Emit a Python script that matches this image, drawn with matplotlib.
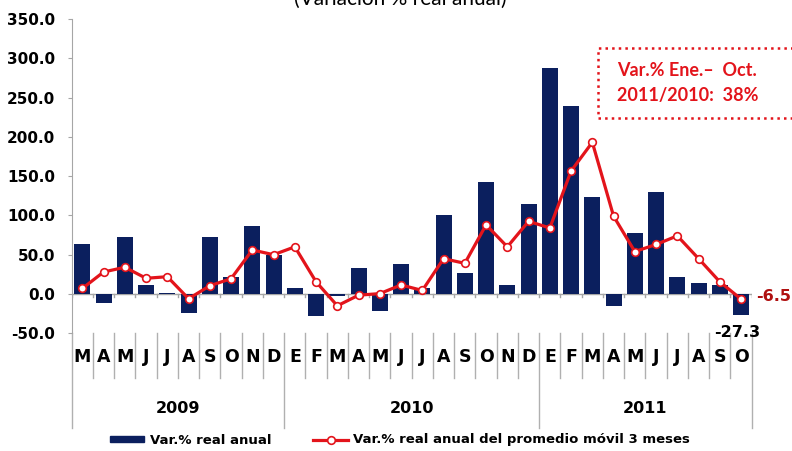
import numpy as np
import matplotlib
matplotlib.use('Agg')
import matplotlib.pyplot as plt
from matplotlib.lines import Line2D
from matplotlib.patches import Rectangle, Patch
import matplotlib.transforms as mtransforms

# datos
meses = ['M', 'A', 'M', 'J', 'J', 'A', 'S', 'O', 'N', 'D',
         'E', 'F', 'M', 'A', 'M', 'J', 'J', 'A', 'S', 'O', 'N', 'D',
         'E', 'F', 'M', 'A', 'M', 'J', 'J', 'A', 'S', 'O']
anios = ['2009', '2010', '2011']
meses_por_anio = [10, 12, 10]

var_real = [64, -11, 72, 11.5, 1, -24.5, 72, 21, 87, 50,
            8, -28, -2, 33.5, -21.5, 38, 8, 100, 27, 142.5, 12, 114.5,
            288, 239, 124, -15.5, 78, 130, 21, 14, 12, -27.3]
prom_movil = [7, 28, 34, 20, 22, -6, 10.5, 19.5, 56, 50,
              60, 15.5, -15, -1.5, 0.5, 11.5, 4.5, 45, 39, 88, 60, 92.5,
              84, 156.5, 193, 99, 54, 63, 74, 45, 15.5, -6.5]

azul = '#0B1F5E'
rojo = '#E3141B'
gris = '#A6A6A6'
fuente = {'family': 'DejaVu Sans', 'weight': 'bold'}

W, H = 792, 451
fig = plt.figure(figsize=(W / 100, H / 100), dpi=100)
x0, x1, y0, y1 = 71.7, 751.7, 18.9, 333.3
ax = fig.add_axes([x0 / W, (H - y1) / H, (x1 - x0) / W, (y1 - y0) / H])

x = np.arange(len(meses))
ax.bar(x, var_real, width=0.75, color=azul, zorder=2)
ax.plot(x, prom_movil, color=rojo, lw=2.3, marker='o', ms=5.5,
        mfc='white', mec=rojo, mew=1.2, zorder=3)

ax.set_xlim(-0.5, len(meses) - 0.5)
ax.set_ylim(-50, 350)
ax.set_yticks(np.arange(-50, 351, 50))
ax.set_yticklabels(['%.1f' % v for v in np.arange(-50, 351, 50)],
                   fontsize=11, **fuente)
ax.tick_params(axis='y', length=3, color=gris, pad=9)
ax.set_xticks([])
for s in ['top', 'right', 'bottom']:
    ax.spines[s].set_visible(False)
ax.spines['left'].set_color(gris)

# eje horizontal en cero con marcas
ax.axhline(0, color=gris, lw=1, zorder=1)
for b in np.arange(len(meses) + 1) - 0.5:
    ax.plot([b, b], [0, -4], color=gris, lw=1, zorder=1)

# etiquetas de categorias en dos niveles
tr = mtransforms.blended_transform_factory(ax.transData, ax.transAxes)
for i, m in enumerate(meses):
    ax.text(i, -0.075, m, transform=tr, ha='center', va='center',
            fontsize=12.5, **fuente)
limites_anio = np.concatenate([[0], np.cumsum(meses_por_anio)]) - 0.5
for b in np.arange(len(meses) + 1) - 0.5:
    fondo = -0.301 if b in limites_anio else -0.142
    ax.add_line(Line2D([b, b], [0, fondo], transform=tr, color='#B0B0B0',
                       lw=1, clip_on=False))
for k, a in enumerate(anios):
    c = (limites_anio[k] + limites_anio[k + 1]) / 2
    ax.text(c, -0.238, a, transform=tr, ha='center', va='center',
            fontsize=11.5, **fuente)

# etiquetas del ultimo dato
ax.annotate('%.1f' % prom_movil[-1], (x[-1], prom_movil[-1]), xytext=(11, 2),
            textcoords='offset points', ha='left', va='center', color='#B01010',
            fontsize=11.5, **fuente)
ax.annotate('%.1f' % var_real[-1], (x[-1], var_real[-1]), xytext=(-3, -12),
            textcoords='offset points', ha='center', va='center', color='black',
            fontsize=11.5, **fuente)

# titulo cortado arriba
fig.text(400 / W, (H - 5) / H, '(Variación % real anual)', ha='center',
         va='baseline', fontfamily='Lato', fontsize=15)

# recuadro de la nota
fig.patches.append(Rectangle((598 / W, (H - 118) / H), 220 / W, 70 / H,
                             transform=fig.transFigure, fill=False,
                             ec=rojo, lw=1.8, ls=':'))
fig.text(617 / W, (H - 71) / H, 'Var.% Ene.\u2013  Oct.', color=rojo,
         fontfamily='Lato', fontweight='bold', fontsize=13, va='center')
fig.text(617 / W, (H - 96) / H, '2011/2010:  38%', color=rojo,
         fontfamily='Lato', fontweight='bold', fontsize=13, va='center')

# leyenda
h1 = Patch(color=azul)
h2 = Line2D([], [], color=rojo, lw=2.3, marker='o', ms=5.5, mfc='white',
            mec=rojo, mew=1.2)
fig.legend([h1, h2], ['Var.% real anual',
                      'Var.% real anual del promedio móvil 3 meses'],
           loc='center', bbox_to_anchor=(400 / W, (H - 440) / H), ncol=2,
           frameon=False, handlelength=2.6, handleheight=0.35,
           handletextpad=0.4, columnspacing=3.2,
           prop={'family': 'DejaVu Sans', 'weight': 'bold', 'size': 9.5})

fig.savefig('out.png', dpi=100)
